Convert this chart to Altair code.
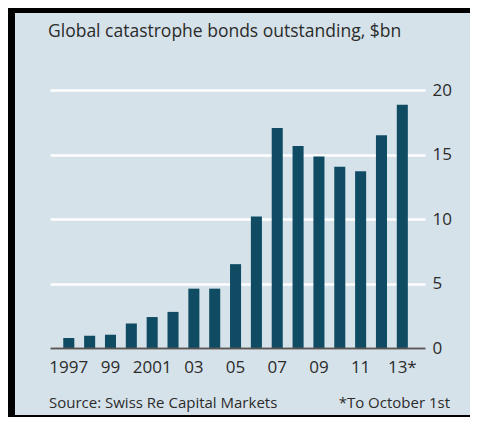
import altair as alt
import pandas as pd

years = [str(y) for y in range(1997, 2014)]
values = [0.77, 0.95, 1.03, 1.9, 2.4, 2.8, 4.6, 4.6, 6.5, 10.2, 17.05, 15.65, 14.85, 14.05, 13.7, 16.5, 18.85]
tick_years = ["1997", "1999", "2001", "2003", "2005", "2007", "2009", "2011", "2013"]
tick_labels = ["1997", "99", "2001", "03", "05", "07", "09", "11", "13*"]
y_ticks = [0, 5, 10, 15, 20]

title_text = "Global catastrophe bonds outstanding, $bn"
source_text = "Source: Swiss Re Capital Markets"
note_text = "*To October 1st"

df = pd.DataFrame({"year": years, "value": values})
one = pd.DataFrame({"k": [0]})

FONT = "Open Sans"
PANEL = "#d6e2ea"
BAR = "#0f4c64"
TEXT = "#2b2b2b"

expr = "''"
for yv, lab in reversed(list(zip(tick_years, tick_labels))):
    expr = f"datum.value == '{yv}' ? '{lab}' : ({expr})"

bars = alt.Chart(df).mark_bar(color=BAR).encode(
    x=alt.X("year:N", sort=years,
            scale=alt.Scale(paddingInner=0.47, paddingOuter=0.73, align=0.436),
            axis=alt.Axis(title=None, labelExpr=expr, labelAngle=0, labelFont=FONT,
                          labelFontSize=17, labelFontWeight=500, labelColor=TEXT,
                          ticks=False, tickSize=0,
                          labelPadding=11, domainColor="#555555", domainWidth=2,
                          zindex=1, grid=False)),
    y=alt.Y("value:Q", scale=alt.Scale(domain=[0, 20], nice=False),
            axis=alt.Axis(title=None, orient="right", values=y_ticks, labelFont=FONT,
                          labelFontSize=17, labelFontWeight=500, labelColor=TEXT,
                          ticks=False, tickSize=0,
                          labelPadding=7, domain=False, grid=True, gridColor="white",
                          gridWidth=2.5)),
)

def strip(x1, x2, y1, y2):
    return alt.Chart(one).mark_rect(color="black").encode(
        x=alt.value(x1), x2=alt.value(x2), y=alt.value(y1), y2=alt.value(y2))

top_strip = strip(-42, 420, -82, -77)
left_strip = strip(-42, -35, -82, 327)
bottom_strip = strip(-42, 420, 325, 327)

def text(t, x, y, size, align="left"):
    return alt.Chart(one).mark_text(text=t, font=FONT, fontSize=size, fontWeight=500,
                                    color=TEXT, align=align,
                                    baseline="alphabetic").encode(
        x=alt.value(x), y=alt.value(y))

title = text(title_text, -2, -53, 17.5)
source = text(source_text, -1, 318, 15)
note = text(note_text, 400, 318, 15, align="right")

chart = alt.layer(bars, top_strip, left_strip, bottom_strip, title, source, note).properties(
    width=375, height=258,
    autosize=alt.AutoSizeParams(type="none"),
    padding={"left": 42, "top": 82, "right": 45, "bottom": 69},
    background=PANEL,
).configure_view(stroke=None)

chart.save("out.html", embed_options={"renderer": "svg", "actions": False})
